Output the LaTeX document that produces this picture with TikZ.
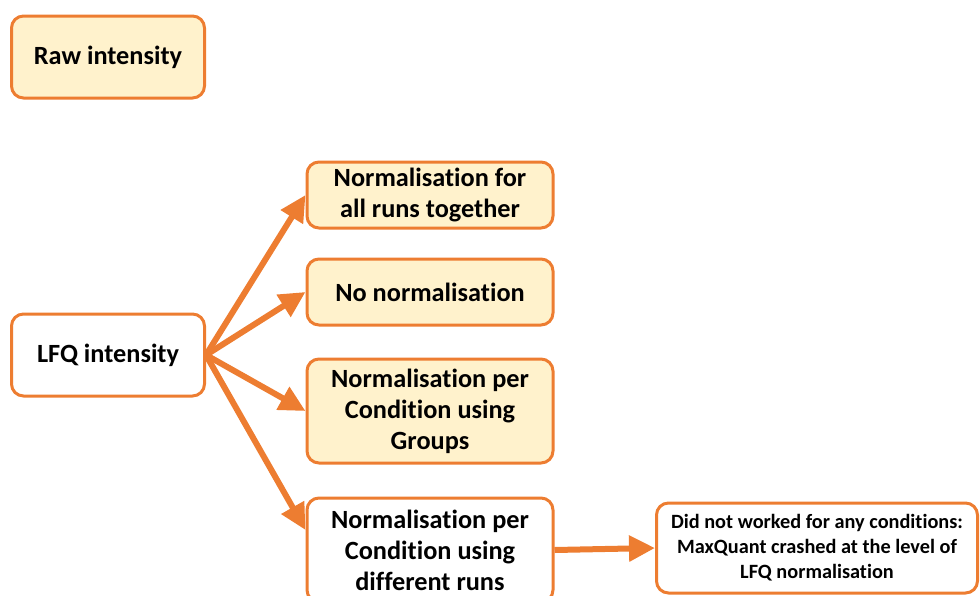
\documentclass[tikz,border=0pt]{standalone}
\usepackage{fontspec}
\setmainfont{Carlito}[Ligatures={NoCommon,NoRequired,NoContextual},Contextuals=NoAlternate]
\usepackage{xcolor}
\definecolor{boxorange}{RGB}{237,125,49}
\definecolor{boxcream}{RGB}{255,242,204}
\usetikzlibrary{arrows.meta,positioning}

\begin{document}
\begin{tikzpicture}[x=1pt,y=-1pt,font=\fontsize{26.3}{31}\selectfont\bfseries]
  \tikzstyle{intbox}=[rectangle,draw=boxorange,line width=3pt,rounded corners=12pt,minimum width=193pt,minimum height=82pt,align=center]
  \tikzstyle{normbox}=[rectangle,draw=boxorange,line width=3pt,fill=boxcream,rounded corners=12pt,minimum width=246pt,minimum height=66pt,align=center,inner sep=2pt]
  \tikzstyle{notebox}=[rectangle,draw=boxorange,line width=3pt,rounded corners=12pt,minimum width=321pt,minimum height=90pt,align=center,inner sep=2pt,font=\fontsize{20.3}{25}\selectfont\bfseries]
  \tikzstyle{flow}=[-{Triangle[length=26pt,width=25pt]},draw=boxorange,line width=6pt]

  \useasboundingbox (0,0) rectangle (980,595);

  \node[intbox,fill=boxcream] (raw) at (108,57) {Raw intensity};
  \node[intbox,fill=white] (lfq) at (108,355) {LFQ intensity};

  \node[normbox] (normall) at (430,195) {Normalisation for\\all runs together};
  \node[normbox] (nonorm) at (430,292) {No normalisation};
  \node[normbox,minimum height=104pt] (normgroups) at (430,411) {Normalisation per\\Condition using\\Groups};
  \node[normbox,fill=white,minimum height=104pt] (normruns) at (430,550) {Normalisation per\\Condition using\\different runs};

  \node[notebox,fill=white] (crash) at (817,548) {Did not worked for any conditions:\\MaxQuant crashed at the level of\\LFQ normalisation};

  \draw[flow] (lfq.east) -- (normall.west);
  \draw[flow] (lfq.east) -- (nonorm.west);
  \draw[flow] (lfq.east) -- (normgroups.west);
  \draw[flow] (lfq.east) -- ([yshift=20pt]normruns.west);
  \draw[flow] (normruns.east) -- (crash.west);
\end{tikzpicture}
\end{document}
